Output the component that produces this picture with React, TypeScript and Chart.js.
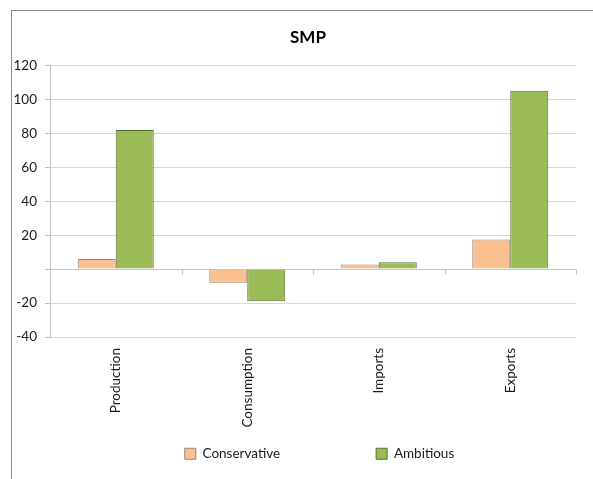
import React, { useEffect, useRef } from "react";
import { Chart, registerables } from "chart.js";

Chart.register(...registerables);

const chartTitle = "SMP";
const categories = ["Production", "Consumption", "Imports", "Exports"];
const seriesNames = ["Conservative", "Ambitious"];
const conservative = [6, -8, 2.7, 17.5];
const ambitious = [82, -19, 4, 105];
const yMin = -40;
const yMax = 120;
const yStep = 20;

const FONT = "Lato, 'Liberation Sans', sans-serif";
const TEXT_SIZE = 13.5;

const zeroLinePlugin = {
  id: "zeroLine",
  beforeDatasetsDraw(chart: any) {
    const { ctx, scales, chartArea } = chart;
    const x = scales.x;
    const y = scales.y;
    const y0 = Math.round(y.getPixelForValue(0)) + 0.5;
    const step = x.getPixelForValue(1) - x.getPixelForValue(0);
    ctx.save();
    ctx.strokeStyle = "#c4c4c4";
    ctx.lineWidth = 1;
    ctx.beginPath();
    ctx.moveTo(chartArea.left, y0);
    ctx.lineTo(chartArea.right, y0);
    for (let i = 0; i <= categories.length; i++) {
      const px = Math.round(x.getPixelForValue(i) - step / 2) + 0.5;
      ctx.moveTo(px, y0);
      ctx.lineTo(px, y0 + 5);
    }
    ctx.stroke();
    ctx.restore();
  },
};

// Keeps the legend from eating plot height and places legend/title like the original.
const layoutTweakPlugin = {
  id: "layoutTweak",
  beforeLayout(chart: any) {
    const l = chart.legend;
    if (l && !l.__patched) {
      const orig = l.fit;
      l.fit = function (this: any) {
        orig.call(this);
        this.height = 40;
      };
      l.__patched = true;
    }
  },
  afterLayout(chart: any) {
    const l = chart.legend;
    if (l) {
      l.top = 351;
      l.bottom = chart.height;
      l.height = l.bottom - l.top;
      l.left += 31.5;
      l.right += 31.5;
    }
    const t = chart.titleBlock;
    if (t) {
      t.left += 20;
      t.right += 20;
    }
  },
};

export default function App() {
  const ref = useRef<HTMLCanvasElement | null>(null);

  useEffect(() => {
    if (!ref.current) return;
    const chart = new Chart(ref.current, {
      type: "bar",
      data: {
        labels: categories,
        datasets: [
          {
            label: seriesNames[0],
            data: conservative,
            backgroundColor: "#FAC090",
            borderColor: "#9c8470",
            borderWidth: 1,
          },
          {
            label: seriesNames[1],
            data: ambitious,
            backgroundColor: "#9BBB59",
            borderColor: "#566f30",
            borderWidth: 1,
          },
        ],
      },
      options: {
        responsive: false,
        animation: false,
        layout: { padding: { left: 0, right: 17, top: 0, bottom: 12 } },
        datasets: {
          bar: { categoryPercentage: 0.578, barPercentage: 1 },
        },
        scales: {
          x: {
            grid: { display: false, drawTicks: false },
            border: { display: false },
            ticks: {
              minRotation: 90,
              maxRotation: 90,
              autoSkip: false,
              padding: 11,
              color: "#1a1a1a",
              font: { family: FONT, size: TEXT_SIZE },
            },
            afterFit: (s: any) => {
              s.height = 90;
            },
          },
          y: {
            min: yMin,
            max: yMax,
            ticks: {
              stepSize: yStep,
              padding: 8,
              color: "#1a1a1a",
              font: { family: FONT, size: TEXT_SIZE },
              callback: (v: any) => (Number(v) === 0 ? "" : String(v)),
            },
            grid: {
              color: "#d9d9d9",
              tickLength: 5,
              tickColor: "#bfbfbf",
            },
            border: { color: "#bfbfbf" },
            afterFit: (s: any) => {
              s.width = 50;
            },
          },
        },
        plugins: {
          title: {
            display: true,
            text: chartTitle,
            color: "#000",
            font: { family: FONT, size: 17, weight: "bold" },
            padding: { top: 27, bottom: 18 },
          },
          legend: {
            position: "bottom",
            labels: {
              boxWidth: 11,
              boxHeight: 11,
              padding: 96,
              color: "#1a1a1a",
              font: { family: FONT, size: TEXT_SIZE },
            },
          },
          tooltip: { enabled: false },
        },
      },
      plugins: [zeroLinePlugin, layoutTweakPlugin],
    });
    return () => chart.destroy();
  }, []);

  return (
    <div
      style={{
        position: "fixed",
        left: 0,
        top: 0,
        width: 593,
        height: 479,
        overflow: "hidden",
        background: "#fff",
      }}
    >
      <div
        style={{
          position: "absolute",
          left: 11,
          top: 10,
          width: 620,
          height: 520,
          border: "1px solid #8c8c8c",
        }}
      />
      <canvas
        ref={ref}
        width={593}
        height={479}
        style={{ position: "absolute", left: 0, top: 0, width: 593, height: 479 }}
      />
    </div>
  );
}
